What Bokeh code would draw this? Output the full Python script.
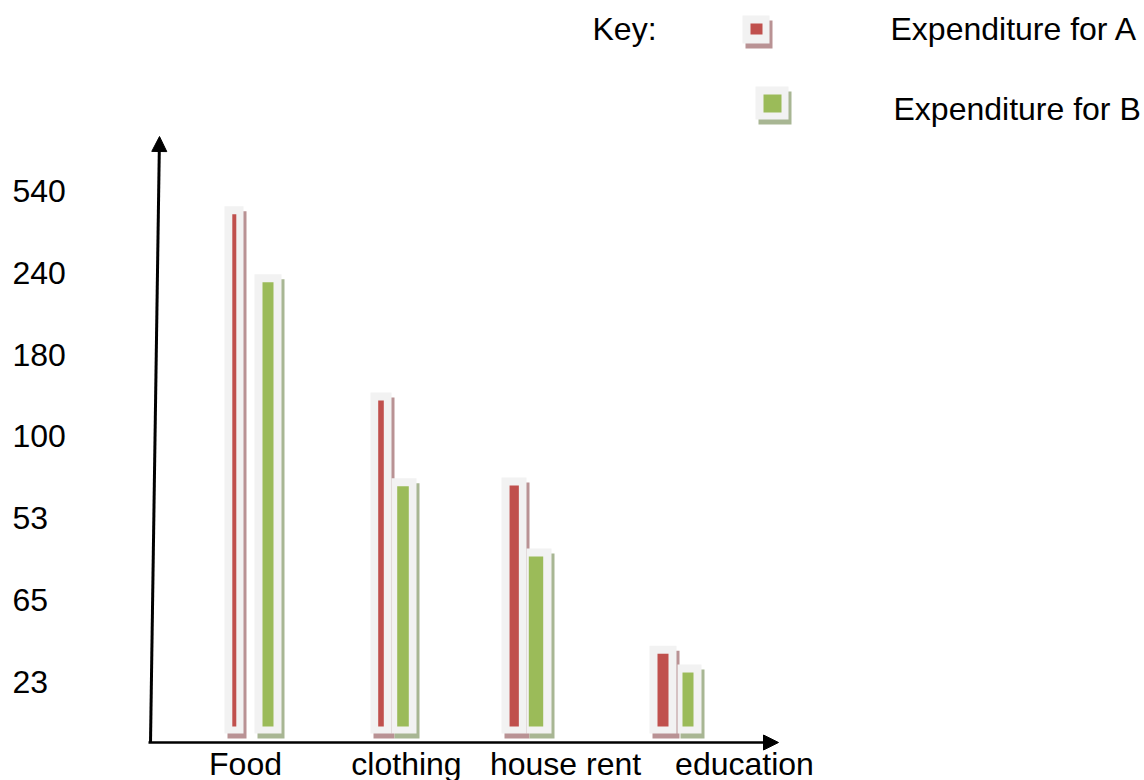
from bokeh.plotting import figure
from bokeh.models import Range1d, FixedTicker, Arrow, NormalHead, Label, BoxAnnotation, ColumnDataSource
from bokeh.embed import file_html
from bokeh.resources import INLINE

# ---------------- data ----------------
categories = ["Food", "clothing", "house rent", "education"]
tick_positions = [1, 2, 3, 4, 5, 6, 7]
tick_labels = ["23", "65", "53", "100", "180", "240", "540"]
series_names = ["Expenditure for A", "Expenditure for B"]
expenditure_a = [6.72, 4.44, 3.40, 1.34]
expenditure_b = [5.89, 3.39, 2.53, 1.11]

# ---------------- layout / style ----------------
W, H = 1144, 780
FB = H                    # frame covers the whole canvas
PX = 81.67                # pixels per tick step
Y0 = 1 - (FB - 681) / PX
Y1 = Y0 + FB / PX


def yu(py):
    return Y0 + (FB - py) / PX


FONT = "Liberation Sans"
FS = "32px"
GREY = "#f2f2f2"
COL_A, SH_A = "#c0504d", "#b99294"
COL_B, SH_B = "#9bbb59", "#a8b693"

label_x = [245, 406, 565, 744]
a_box_x, a_box_w = [233.5, 380.5, 513.5, 662.5], [19, 21, 25, 27]
a_bar_x, a_bar_w = [233.8, 380.5, 513.7, 662.5], [4, 5.6, 9.3, 11]
b_box_x, b_box_w = [267.5, 403.5, 538.5, 689], [27, 25, 25, 24]
b_bar_x, b_bar_w = [267.5, 402.5, 535.5, 687.5], [11, 11.6, 14.4, 11]

PAD_TOP = 8 / PX
BAR_BOTTOM = yu(726)
BOX_BOTTOM = yu(733)
SH_DX, SH_DY = 3, 5 / PX

p = figure(width=W, height=H, x_range=Range1d(0, W), y_range=Range1d(Y0, Y1),
           y_axis_location="right", output_backend="svg", toolbar_location=None)
p.min_border = 0
p.min_border_left = 0
p.min_border_bottom = 0
p.min_border_right = 0
p.min_border_top = 0
p.outline_line_color = None
p.grid.visible = False
p.background_fill_color = "white"
p.border_fill_color = "white"


def draw_series(vals, box_x, box_w, bar_x, bar_w, col, sh):
    src = ColumnDataSource(dict(
        sx=[c + SH_DX for c in box_x], bx=box_x, bw=box_w, ix=bar_x, iw=bar_w,
        val=vals,
        boxtop=[v + PAD_TOP for v in vals],
        shtop=[v + PAD_TOP - SH_DY for v in vals],
    ))
    p.vbar(x="sx", width="bw", top="shtop", bottom=BOX_BOTTOM - SH_DY, source=src,
           fill_color=sh, line_color=None)
    p.vbar(x="bx", width="bw", top="boxtop", bottom=BOX_BOTTOM, source=src,
           fill_color=GREY, line_color=None)
    p.vbar(x="ix", width="iw", top="val", bottom=BAR_BOTTOM, source=src,
           fill_color=col, line_color=None)


draw_series(expenditure_a, a_box_x, a_box_w, a_bar_x, a_bar_w, COL_A, SH_A)
draw_series(expenditure_b, b_box_x, b_box_w, b_bar_x, b_bar_w, COL_B, SH_B)

# axes: labels only, fixed inside the frame
for ax in (p.xaxis[0], p.yaxis[0]):
    ax.axis_line_color = None
    ax.major_tick_line_color = None
    ax.minor_tick_line_color = None
    ax.major_tick_out = 0
    ax.major_tick_in = 0
    ax.major_label_text_font = FONT
    ax.major_label_text_color = "black"
    ax.major_label_text_font_size = FS

p.xaxis[0].ticker = FixedTicker(ticks=label_x)
p.xaxis[0].major_label_overrides = {x: c for x, c in zip(label_x, categories)}
p.xaxis[0].fixed_location = yu(742)
p.xaxis[0].major_label_standoff = 3

p.yaxis[0].ticker = FixedTicker(ticks=tick_positions)
p.yaxis[0].major_label_overrides = {t: l for t, l in zip(tick_positions, tick_labels)}
p.yaxis[0].fixed_location = 12
p.yaxis[0].major_label_standoff = 0

# hand-drawn arrows for the axes
p.add_layout(Arrow(end=NormalHead(size=15, fill_color="black", line_color="black"),
                   x_start=150, y_start=yu(742), x_end=159, y_end=yu(136),
                   line_width=3, line_color="black"))
p.add_layout(Arrow(end=NormalHead(size=15, fill_color="black", line_color="black"),
                   x_start=148, y_start=yu(742), x_end=778, y_end=yu(742),
                   line_width=2.5, line_color="black"))

# key
p.add_layout(Label(x=592, y=yu(28), text="Key:", text_baseline="middle",
                   text_font=FONT, text_font_size=FS, text_color="black"))
p.add_layout(Label(x=890, y=yu(28), text=series_names[0], text_baseline="middle",
                   text_font=FONT, text_font_size=FS, text_color="black"))
p.add_layout(Label(x=893, y=yu(108), text=series_names[1], text_baseline="middle",
                   text_font=FONT, text_font_size=FS, text_color="black"))


def key_marker(l, t, r, b, il, it, ir, ib, col, sh):
    p.add_layout(BoxAnnotation(left=l + 3, right=r + 3, top=yu(t + 5), bottom=yu(b + 5),
                               fill_color=sh, fill_alpha=1, line_color=None))
    p.add_layout(BoxAnnotation(left=l, right=r, top=yu(t), bottom=yu(b),
                               fill_color=GREY, fill_alpha=1, line_color=None))
    p.add_layout(BoxAnnotation(left=il, right=ir, top=yu(it), bottom=yu(ib),
                               fill_color=col, fill_alpha=1, line_color=None))


key_marker(742, 15, 769, 43, 750, 23, 762, 34, COL_A, SH_A)
key_marker(755, 86, 788, 119, 763, 94, 781, 112, COL_B, SH_B)

open("out.html", "w").write(file_html(p, INLINE))
